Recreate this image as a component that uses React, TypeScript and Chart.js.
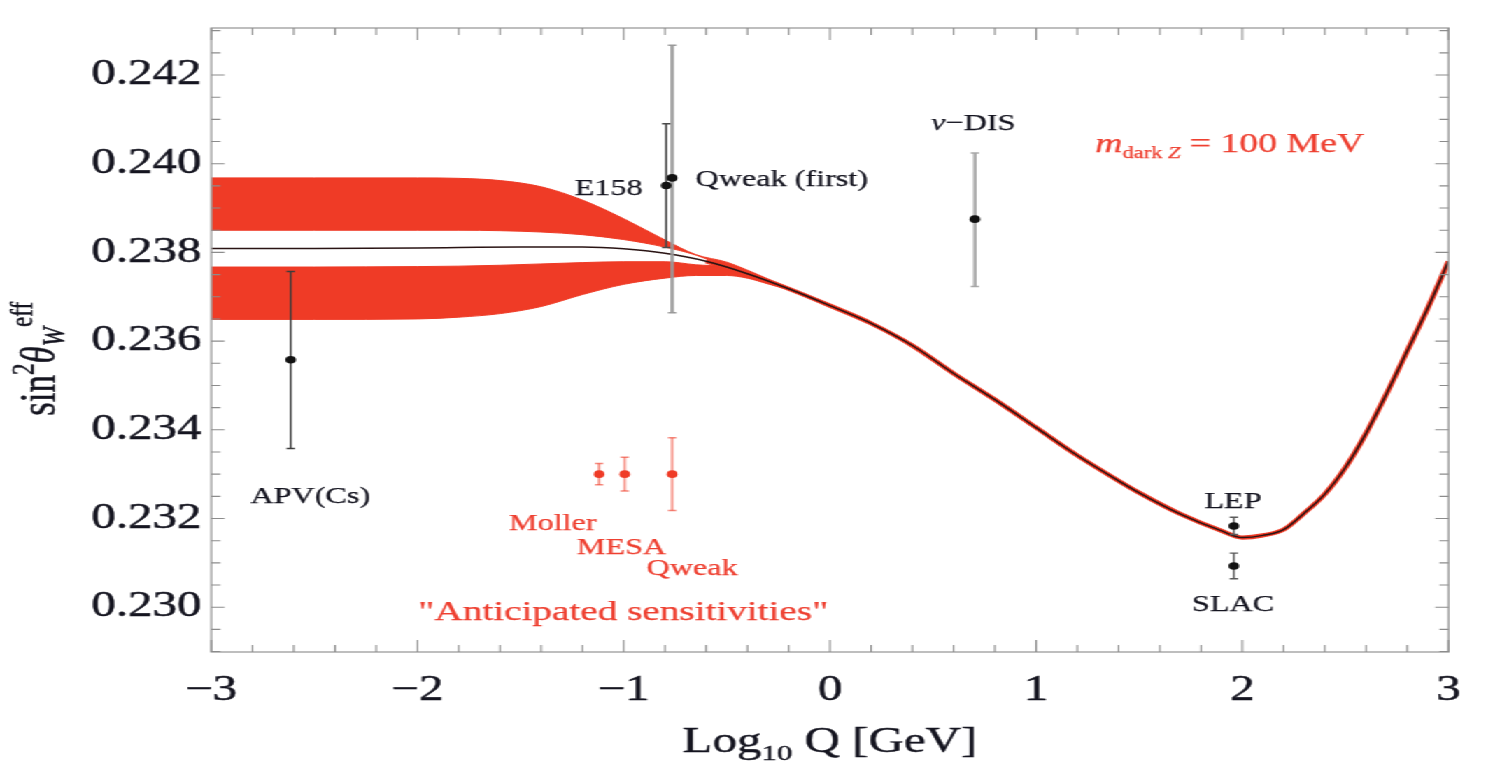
import React, { useEffect, useRef } from "react";
import { Chart, registerables } from "chart.js";
Chart.register(...registerables);

// The reference picture is horizontally stretched; we draw at a narrower
// internal width and stretch the whole canvas with CSS.
const STRETCH = 1.3992;
const W = 1062;
const H = 765;

const SERIF = '"Liberation Serif", "Times New Roman", Times, serif';
const RED = "#EF3B26";
const TEXT_RED = "#EE4031";
const INK = "#151520";

// ---- axes ----
const xMin = -3;
const xMax = 3;
const yMin = 0.22899;
const yMax = 0.24306;
const xTicks = [-3, -2, -1, 0, 1, 2, 3];
const xTickLabels = ["\u22123", "\u22122", "\u22121", "0", "1", "2", "3"];
const yTicks = [0.23, 0.232, 0.234, 0.236, 0.238, 0.24, 0.242];
const yTickLabels = ["0.230", "0.232", "0.234", "0.236", "0.238", "0.240", "0.242"];
const xMinorStep = 0.2;
const yMinorStep = 0.0005;

// ---- running weak mixing angle (SM curve) ----
const curveX = [-3, -2.5, -2, -1.5, -1.2, -1.0, -0.8, -0.6, -0.4, -0.2, 0, 0.2, 0.4, 0.6, 0.8, 1.0, 1.2, 1.4, 1.5, 1.7, 1.9, 2.0, 2.1, 2.2, 2.3, 2.4, 2.5, 2.6, 2.7, 2.8, 2.9, 3.0];
const curveY = [0.23809, 0.23809, 0.2381, 0.23812, 0.23812, 0.23808, 0.23798, 0.2378, 0.23752, 0.23718, 0.2368, 0.2364, 0.2359, 0.23527, 0.23468, 0.23405, 0.23342, 0.23285, 0.23258, 0.2321, 0.23172, 0.23157, 0.23162, 0.23175, 0.23212, 0.23255, 0.23315, 0.23392, 0.23482, 0.23578, 0.23675, 0.2378];

// ---- dark Z band (upper and lower red regions) ----
const bandX = [-3, -2.5, -2, -1.8, -1.6, -1.4, -1.2, -1.0, -0.8, -0.65, -0.5, -0.4, -0.3, -0.2];
const upperTop = [0.23968, 0.23968, 0.23968, 0.23967, 0.23962, 0.23948, 0.23918, 0.23876, 0.23828, 0.23795, 0.23778, 0.2376, 0.2374, 0.23719];
const upperBottom = [0.2385, 0.2385, 0.2385, 0.2385, 0.23849, 0.23846, 0.2384, 0.23829, 0.23812, 0.23794, 0.23767, 0.23752, 0.23735, 0.23718];
const lowerTop = [0.23767, 0.23767, 0.23768, 0.23769, 0.23771, 0.23774, 0.23777, 0.23779, 0.23779, 0.23772, 0.23767, 0.23752, 0.23735, 0.23718];
const lowerBottom = [0.23649, 0.23649, 0.2365, 0.23654, 0.23662, 0.23678, 0.23705, 0.23728, 0.23742, 0.23748, 0.23748, 0.23742, 0.23729, 0.23716];

// ---- measurements ----
const expNames = ["APV(Cs)", "E158", "Qweak (first)", "\u03bd\u2212DIS", "LEP", "SLAC"];
const expX = [-2.615, -0.794, -0.765, 0.703, 1.959, 1.959];
const expY = [0.23558, 0.23951, 0.23968, 0.23875, 0.23183, 0.23093];
const expLo = [0.23358, 0.23811, 0.23664, 0.23723, 0.23164, 0.23064];
const expHi = [0.23757, 0.2409, 0.24267, 0.24024, 0.23203, 0.23122];
const expBarColor = ["#3c3c3c", "#4a4a4a", "#9a9a9a", "#a8a8a8", "#5a5a5a", "#5a5a5a"];
const expBarWidth = [1.4, 1.6, 2.4, 2.4, 1.4, 1.4];

// ---- anticipated sensitivities ----
const futNames = ["Moller", "MESA", "Qweak"];
const futX = [-1.119, -0.995, -0.765];
const futY = [0.233, 0.233, 0.233];
const futErr = [0.00024, 0.00038, 0.00082];

// ---- text labels (anchored in data coordinates) ----
type Part = { t: string; size: number; italic?: boolean; dy?: number };
type Label = { parts: Part[]; x: number; y: number; align: "left" | "center" | "right"; color: string };
const labels: Label[] = [
  { parts: [{ t: "APV(Cs)", size: 23 }], x: -2.52, y: 0.23252, align: "center", color: INK },
  { parts: [{ t: "E158", size: 23 }], x: -1.073, y: 0.23947, align: "center", color: INK },
  { parts: [{ t: "Qweak (first)", size: 23 }], x: -0.652, y: 0.23966, align: "left", color: INK },
  { parts: [{ t: "\u03bd", size: 23, italic: true }, { t: "\u2212DIS", size: 23 }], x: 0.696, y: 0.24093, align: "center", color: INK },
  { parts: [{ t: "LEP", size: 23 }], x: 1.955, y: 0.23241, align: "center", color: INK },
  { parts: [{ t: "SLAC", size: 23 }], x: 1.955, y: 0.23009, align: "center", color: INK },
  { parts: [{ t: "Moller", size: 23 }], x: -1.344, y: 0.23191, align: "center", color: TEXT_RED },
  { parts: [{ t: "MESA", size: 23 }], x: -1.01, y: 0.23136, align: "center", color: TEXT_RED },
  { parts: [{ t: "Qweak", size: 23 }], x: -0.668, y: 0.23089, align: "center", color: TEXT_RED },
  { parts: [{ t: "\"Anticipated sensitivities\"", size: 28 }], x: -1.002, y: 0.22991, align: "center", color: TEXT_RED },
  {
    parts: [
      { t: "m", size: 27, italic: true },
      { t: "dark ", size: 16, dy: 6 },
      { t: "Z", size: 16, italic: true, dy: 6 },
      { t: " = 100 MeV", size: 27 },
    ],
    x: 1.287,
    y: 0.24046,
    align: "left",
    color: TEXT_RED,
  },
];

const pts = (xs: number[], ys: number[]) => xs.map((x, i) => ({ x, y: ys[i] }));

function fontOf(p: Part) {
  return `${p.italic ? "italic " : ""}${p.size}px ${SERIF}`;
}

function drawRich(ctx: CanvasRenderingContext2D, parts: Part[], x: number, y: number, align: "left" | "center" | "right", color: string, stroke = 0.25) {
  ctx.fillStyle = color;
  ctx.strokeStyle = color;
  ctx.lineWidth = stroke;
  ctx.textBaseline = "alphabetic";
  ctx.textAlign = "left";
  const widths = parts.map((p) => {
    ctx.font = fontOf(p);
    return ctx.measureText(p.t).width;
  });
  const total = widths.reduce((a, b) => a + b, 0);
  let cx = align === "left" ? x : align === "center" ? x - total / 2 : x - total;
  parts.forEach((p, i) => {
    ctx.font = fontOf(p);
    ctx.fillText(p.t, cx, y + (p.dy || 0));
    if (stroke > 0) ctx.strokeText(p.t, cx, y + (p.dy || 0));
    cx += widths[i];
  });
}

const framePlugin = {
  id: "frameTicks",
  afterDatasetsDraw(chart: any) {
    const { ctx, chartArea: a, scales } = chart;
    const xs = scales.x;
    const ys = scales.y;
    ctx.save();
    ctx.strokeStyle = "#a3a3a3";
    ctx.lineWidth = 1.4;
    ctx.strokeRect(a.left, a.top, a.right - a.left, a.bottom - a.top);
    ctx.strokeStyle = "#8c8c8c";
    ctx.lineWidth = 1.1;
    ctx.beginPath();
    const nx = Math.round((xMax - xMin) / xMinorStep);
    for (let i = 0; i <= nx; i++) {
      const v = xMin + i * xMinorStep;
      const major = xTicks.some((t) => Math.abs(t - v) < 1e-6);
      const len = major ? 12 : 7;
      const px = xs.getPixelForValue(v);
      ctx.moveTo(px, a.bottom);
      ctx.lineTo(px, a.bottom - len);
      ctx.moveTo(px, a.top);
      ctx.lineTo(px, a.top + len);
    }
    const y0 = Math.ceil(yMin / yMinorStep) * yMinorStep;
    for (let v = y0; v <= yMax + 1e-9; v += yMinorStep) {
      const major = yTicks.some((t) => Math.abs(t - v) < 1e-7);
      const len = major ? 9.5 : 6.5;
      const py = ys.getPixelForValue(v);
      ctx.moveTo(a.left, py);
      ctx.lineTo(a.left + len, py);
      ctx.moveTo(a.right, py);
      ctx.lineTo(a.right - len, py);
    }
    ctx.stroke();

    labels.forEach((l) => {
      const px = xs.getPixelForValue(l.x);
      const size = Math.max(...l.parts.map((p) => p.size));
      const py = ys.getPixelForValue(l.y) + size * 0.33;
      drawRich(ctx, l.parts, px, py, l.align, l.color);
    });

    const midX = (a.left + a.right) / 2;
    drawRich(
      ctx,
      [
        { t: "Log", size: 35 },
        { t: "10", size: 22, dy: 8 },
        { t: " Q [GeV]", size: 35 },
      ],
      midX,
      752,
      "center",
      INK,
      0.4
    );

    ctx.save();
    ctx.translate(39, ys.getPixelForValue(0.2356));
    ctx.rotate(-Math.PI / 2);
    drawRich(
      ctx,
      [
        { t: "sin", size: 35 },
        { t: "2", size: 23, dy: -15 },
        { t: "\u03b8", size: 35, italic: true },
        { t: "W", size: 23, italic: true, dy: 7 },
        { t: "eff", size: 23, dy: -16 },
      ],
      0,
      0,
      "center",
      INK,
      0.4
    );
    ctx.restore();
    ctx.restore();
  },
};

export default function App() {
  const ref = useRef<HTMLCanvasElement>(null);

  useEffect(() => {
    const canvas = ref.current;
    if (!canvas) return;
    let chart: Chart | null = null;
    let cancelled = false;

    const build = () => {
      if (cancelled) return;
      const lineBase = { pointRadius: 0, pointHoverRadius: 0, cubicInterpolationMode: "monotone" as const };

      // lower "order" is painted on top
      const datasets: any[] = [
        { label: "upperTop", order: 5, data: pts(bandX, upperTop), borderColor: RED, borderWidth: 1, backgroundColor: RED, fill: "+1", ...lineBase },
        { label: "upperBottom", order: 5, data: pts(bandX, upperBottom), borderColor: RED, borderWidth: 1, fill: false, ...lineBase },
        { label: "lowerTop", order: 5, data: pts(bandX, lowerTop), borderColor: RED, borderWidth: 1, backgroundColor: RED, fill: "+1", ...lineBase },
        { label: "lowerBottom", order: 5, data: pts(bandX, lowerBottom), borderColor: RED, borderWidth: 1, fill: false, ...lineBase },
        {
          label: "darkZ",
          order: 4,
          data: pts(curveX, curveY).filter((p) => p.x >= -0.6),
          borderColor: RED,
          borderWidth: 4.2,
          fill: false,
          ...lineBase,
        },
        { label: "SM", order: 3, data: pts(curveX, curveY), borderColor: "#2a1414", borderWidth: 1.5, fill: false, ...lineBase },
      ];

      expNames.forEach((n, i) => {
        datasets.push({
          label: n + " err",
          order: 2,
          data: [
            { x: expX[i], y: expLo[i] },
            { x: expX[i], y: expHi[i] },
          ],
          borderColor: expBarColor[i],
          borderWidth: expBarWidth[i],
          pointStyle: "line",
          pointRadius: 3,
          pointBorderColor: expBarColor[i],
          pointBorderWidth: 1.4,
          fill: false,
        });
      });
      futNames.forEach((n, i) => {
        datasets.push({
          label: n + " err",
          order: 2,
          data: [
            { x: futX[i], y: futY[i] - futErr[i] },
            { x: futX[i], y: futY[i] + futErr[i] },
          ],
          borderColor: "rgba(239,59,38,0.55)",
          borderWidth: 1.8,
          pointStyle: "line",
          pointRadius: 3,
          pointBorderColor: "rgba(239,59,38,0.6)",
          pointBorderWidth: 1.4,
          fill: false,
        });
      });
      datasets.push({
        label: "measurements",
        order: 1,
        data: pts(expX, expY),
        showLine: false,
        pointStyle: "circle",
        pointRadius: 3.8,
        pointBackgroundColor: "#111",
        pointBorderColor: "#111",
        pointBorderWidth: 0,
      });
      datasets.push({
        label: "anticipated",
        order: 1,
        data: pts(futX, futY),
        showLine: false,
        pointStyle: "circle",
        pointRadius: 3.8,
        pointBackgroundColor: RED,
        pointBorderColor: RED,
        pointBorderWidth: 0,
      });

      chart = new Chart(canvas, {
        type: "line",
        data: { datasets },
        options: {
          responsive: false,
          animation: false,
          devicePixelRatio: 1,
          layout: { padding: { top: 14, right: 12, left: 0, bottom: 0 } },
          plugins: { legend: { display: false }, tooltip: { enabled: false } },
          elements: { line: { tension: 0 } },
          scales: {
            x: {
              type: "linear",
              min: xMin,
              max: xMax,
              grid: { display: false, drawTicks: false },
              border: { display: false },
              afterBuildTicks: (s: any) => {
                s.ticks = xTicks.map((v) => ({ value: v }));
              },
              afterFit: (s: any) => {
                s.height = 113;
              },
              ticks: {
                padding: 18,
                color: INK,
                textStrokeColor: INK,
                textStrokeWidth: 0.45,
                font: { family: SERIF, size: 35 },
                callback: (v: any) => {
                  const i = xTicks.findIndex((t) => Math.abs(t - Number(v)) < 1e-9);
                  return i >= 0 ? xTickLabels[i] : "";
                },
              },
            },
            y: {
              type: "linear",
              min: yMin,
              max: yMax,
              grid: { display: false, drawTicks: false },
              border: { display: false },
              afterBuildTicks: (s: any) => {
                s.ticks = yTicks.map((v) => ({ value: v }));
              },
              afterFit: (s: any) => {
                s.width = 151;
              },
              ticks: {
                padding: 7,
                color: INK,
                textStrokeColor: INK,
                textStrokeWidth: 0.45,
                font: { family: SERIF, size: 35 },
                callback: (v: any) => {
                  const i = yTicks.findIndex((t) => Math.abs(t - Number(v)) < 1e-9);
                  return i >= 0 ? yTickLabels[i] : "";
                },
              },
            },
          },
        },
        plugins: [framePlugin],
      });
    };

    const fonts: any = (document as any).fonts;
    if (fonts && fonts.load) {
      Promise.all([
        fonts.load('35px "Liberation Serif"'),
        fonts.load('italic 35px "Liberation Serif"'),
      ])
        .catch(() => null)
        .then(build);
    } else {
      build();
    }

    return () => {
      cancelled = true;
      if (chart) chart.destroy();
    };
  }, []);

  return (
    <div
      style={{
        position: "fixed",
        left: 0,
        top: 0,
        width: W,
        height: H,
        background: "#fff",
        transform: `scaleX(${STRETCH})`,
        transformOrigin: "0 0",
      }}
    >
      <canvas ref={ref} width={W} height={H} style={{ display: "block" }} />
    </div>
  );
}
